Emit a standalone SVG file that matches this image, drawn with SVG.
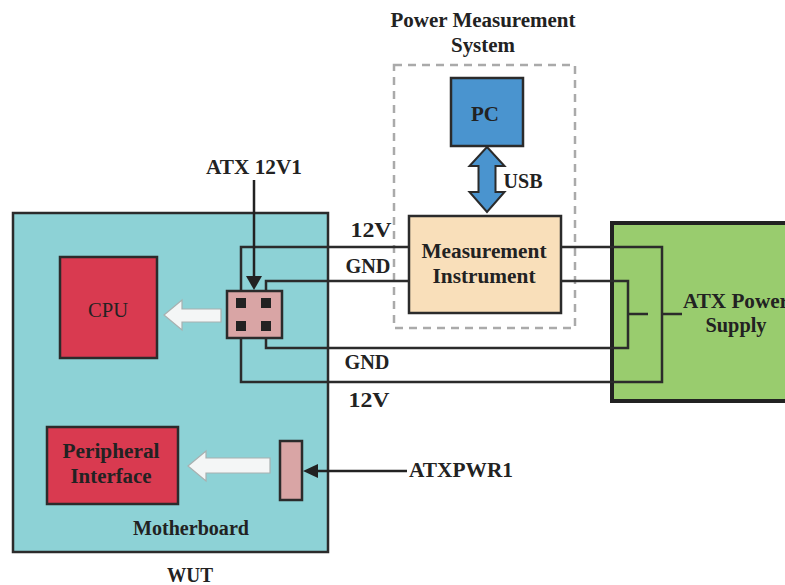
<svg xmlns="http://www.w3.org/2000/svg" width="785" height="585" viewBox="0 0 785 585">
<style>
.t{font-family:'Times New Roman','Liberation Serif','DejaVu Serif',Times,serif;font-size:20px;font-weight:bold;fill:#222;text-anchor:middle}
.box{stroke:#2b2b2b;stroke-width:2.5}
.wire{fill:none;stroke:#2b2b2b;stroke-width:2.5}
.hollow{fill:#f4f6f6;stroke:#a8b0b0;stroke-width:1.2}
</style>
<rect width="785" height="585" fill="#fff"/>
<g id="wut">
<rect class="box" x="13" y="213" width="315" height="339" fill="#8dd2d6"/>
<text class="t" x="191" y="535" textLength="116" lengthAdjust="spacingAndGlyphs">Motherboard</text>
<text class="t" x="190" y="582" textLength="46" lengthAdjust="spacingAndGlyphs">WUT</text>
</g>
<g id="pms">
<rect x="394" y="65" width="181" height="263" fill="none" stroke="#aaa" stroke-width="2.5" stroke-dasharray="8 6"/>
<text class="t" x="483" y="27" textLength="185" lengthAdjust="spacingAndGlyphs">Power Measurement</text>
<text class="t" x="483" y="52" textLength="64" lengthAdjust="spacingAndGlyphs">System</text>
</g>
<g id="cpu">
<rect class="box" x="60" y="257" width="97" height="101" fill="#d93a50"/>
<text class="t" x="108" y="317" style="font-weight:normal" textLength="40" lengthAdjust="spacingAndGlyphs">CPU</text>
</g>
<g id="peripheral">
<rect class="box" x="47" y="427" width="131" height="77" fill="#d93a50"/>
<text class="t" x="111" y="458" textLength="97" lengthAdjust="spacingAndGlyphs">Peripheral</text>
<text class="t" x="111" y="483" textLength="81" lengthAdjust="spacingAndGlyphs">Interface</text>
</g>
<g id="pc">
<rect class="box" x="451" y="78" width="72" height="68" fill="#4a94cf"/>
<text class="t" x="485" y="121" textLength="28" lengthAdjust="spacingAndGlyphs">PC</text>
</g>
<g id="instrument">
<rect class="box" x="409" y="216" width="152" height="97" fill="#f9dfba"/>
<text class="t" x="484" y="258" textLength="125" lengthAdjust="spacingAndGlyphs">Measurement</text>
<text class="t" x="484" y="283" textLength="103" lengthAdjust="spacingAndGlyphs">Instrument</text>
</g>
<g id="atxpsu">
<rect x="612" y="223" width="180" height="178" fill="#99cc6e" stroke="#222" stroke-width="4"/>
<text class="t" x="736" y="308" textLength="106" lengthAdjust="spacingAndGlyphs">ATX Power</text>
<text class="t" x="736" y="332" textLength="61" lengthAdjust="spacingAndGlyphs">Supply</text>
</g>
<g id="connectors">
<path class="wire" d="M409 247 H241 V382 H662 V247 H561"/>
<path class="wire" d="M409 281 H266 V348 H628 V281 H561"/>
<path class="wire" d="M628 314 H648 M662 314 H682"/>
<polygon class="hollow" points="164,315 182,300 182,309 221,309 221,322 182,322 182,330"/>
<polygon class="hollow" points="188,466 206,451 206,458 270,458 270,473 206,473 206,481"/>
<polygon points="487,147 504.5,166 495.5,166 495.5,192 504.5,192 487,212 469.5,192 478.5,192 478.5,166 469.5,166" fill="#4a94cf" stroke="#2b2b2b" stroke-width="2"/>
<text class="t" x="523" y="188" textLength="39" lengthAdjust="spacingAndGlyphs">USB</text>
<line x1="254" y1="180" x2="254" y2="278" stroke="#222" stroke-width="2.5"/>
<polygon points="246,276 262,276 254,290" fill="#222"/>
<text class="t" x="254" y="174" textLength="96" lengthAdjust="spacingAndGlyphs">ATX 12V1</text>
<line x1="407" y1="471" x2="316" y2="471" stroke="#222" stroke-width="2.5"/>
<polygon points="303,471 318,464 318,478" fill="#222"/>
<text class="t" x="409" y="477" style="text-anchor:start" textLength="104" lengthAdjust="spacingAndGlyphs">ATXPWR1</text>
<text class="t" x="371" y="237" textLength="41" lengthAdjust="spacingAndGlyphs">12V</text>
<text class="t" x="368" y="273" textLength="45" lengthAdjust="spacingAndGlyphs">GND</text>
<text class="t" x="367" y="369" textLength="45" lengthAdjust="spacingAndGlyphs">GND</text>
<text class="t" x="369" y="407" textLength="41" lengthAdjust="spacingAndGlyphs">12V</text>
</g>
<g id="atx12v1">
<rect class="box" x="227" y="291" width="55" height="47" fill="#d9a5a5"/>
<rect x="236" y="298" width="10" height="10" fill="#222"/>
<rect x="261" y="298" width="10" height="10" fill="#222"/>
<rect x="236" y="321" width="10" height="10" fill="#222"/>
<rect x="261" y="321" width="10" height="10" fill="#222"/>
</g>
<g id="atxpwr1">
<rect class="box" x="280" y="441" width="22" height="59" fill="#d9a5a5"/>
</g>
</svg>
